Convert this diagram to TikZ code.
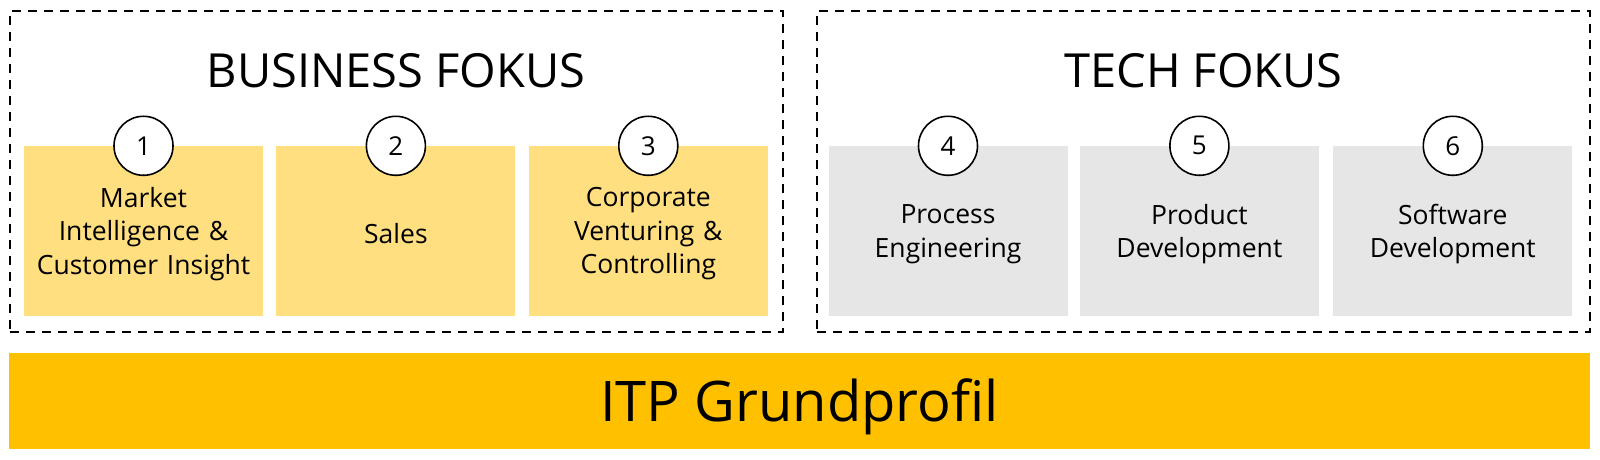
\documentclass[tikz,border=0pt]{standalone}
\usepackage{fontspec}
\setmainfont{Open Sans}
\usepackage{xcolor}
\usetikzlibrary{positioning}
\definecolor{itpgold}{HTML}{FFC000}
\definecolor{bizyellow}{HTML}{FFDF80}
\definecolor{techgray}{HTML}{E6E6E6}
\tikzstyle{fokusframe} = [rectangle, draw, line width=2pt, dash pattern=on 9pt off 7pt,
minimum width=773pt, minimum height=321pt, inner sep=0pt]
\tikzstyle{block} = [rectangle, minimum width=239pt, minimum height=170pt, inner sep=0pt]
\tikzstyle{bizblock} = [block, fill=bizyellow]
\tikzstyle{techblock} = [block, fill=techgray]
\tikzstyle{blocktext} = [text width=237pt, align=center, inner sep=0pt,
font=\fontsize{26.5}{33.5}\selectfont]
\tikzstyle{num} = [circle, draw, fill=white, line width=1.6pt, minimum size=59pt,
inner sep=0pt, font=\fontsize{26}{30}\selectfont]
\tikzstyle{title} = [anchor=base, font=\fontsize{47}{50}\selectfont]

\begin{document}
\begin{tikzpicture}[x=1pt, y=-1pt]
        \useasboundingbox (0,0) rectangle (1600,460);

        \node [fokusframe] (bizframe) at (396,171.5) {};
        \node [fokusframe] (techframe) at (1203.5,171.5) {};
        \node [title] (biztitle) at (396,87) {BUSINESS FOKUS};
        \node [title] (techtitle) at (1203.5,87) {TECH FOKUS};

        \node [bizblock] (market) at (143.5,231) {};
        \node [bizblock, right=13pt of market] (sales) {};
        \node [bizblock, right=13pt of sales] (venturing) {};
        \node [techblock] (process) at (948,231) {};
        \node [techblock, right=12pt of process] (product) {};
        \node [techblock, right=14pt of product] (software) {};

        \node [blocktext] (markettext) at ([yshift=-3pt]market) {Market\\ Intelligence \&\\ Customer Insight};
        \node [blocktext] (salestext) at ([yshift=-3pt]sales) {Sales};
        \node [blocktext] (venturingtext) at ([yshift=-3pt]venturing) {Corporate\\ Venturing \&\\ Controlling};
        \node [blocktext] (processtext) at ([yshift=-3pt]process) {Process\\ Engineering};
        \node [blocktext] (producttext) at ([yshift=-3pt]product) {Product\\ Development};
        \node [blocktext] (softwaretext) at ([yshift=-3pt]software) {Software\\ Development};

        \node [num] (n1) at (market.north) {1};
        \node [num] (n2) at (sales.north) {2};
        \node [num] (n3) at (venturing.north) {3};
        \node [num] (n4) at (process.north) {4};
        \node [num] (n5) at (product.north) {5};
        \node [num] (n6) at (software.north) {6};

        \node [rectangle, fill=itpgold, minimum width=1581pt, minimum height=96pt,
        inner sep=0pt, text height=40pt, text depth=0pt,
        font=\fontsize{56}{60}\selectfont] (grundprofil) at (799.5,401) {ITP Grundprofil};
      \end{tikzpicture}
\end{document}
